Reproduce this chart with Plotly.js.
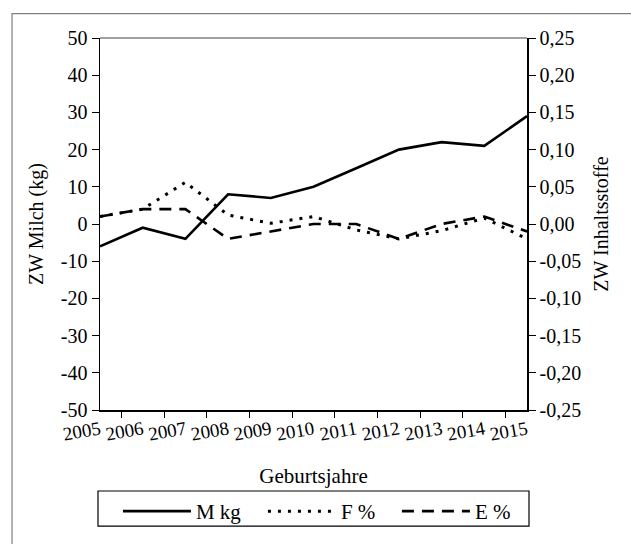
<!DOCTYPE html>
<html>
<head>
<meta charset="utf-8">
<script src="https://cdn.plot.ly/plotly-3.0.1.min.js"></script>
<style>html,body{margin:0;padding:0;background:#fff;}#chart{width:631px;height:544px;}</style>
</head>
<body>
<div id="chart"></div>
<script>
const years = ['2005','2006','2007','2008','2009','2010','2011','2012','2013','2014','2015'];
const milchKg = [-6, -1, -4, 8, 7, 10, 15, 20, 22, 21, 29];
const fettPct = [0.01, 0.02, 0.056, 0.012, 0.001, 0.01, -0.008, -0.02, -0.009, 0.008, -0.02];
const eiweissPct = [0.01, 0.02, 0.02, -0.02, -0.01, 0, 0, -0.02, 0, 0.01, -0.01];
const leftTicks = [-50, -40, -30, -20, -10, 0, 10, 20, 30, 40, 50];
const rightTicks = [-0.25, -0.20, -0.15, -0.10, -0.05, 0, 0.05, 0.10, 0.15, 0.20, 0.25];
const seriesNames = ['M kg', 'F %', 'E %'];

const fmtLeft = v => String(v);
const fmtRight = v => v.toFixed(2).replace('.', ',');
const FONT = 'Liberation Serif';

const traces = [
  {x: years, y: milchKg, name: seriesNames[0], type: 'scatter', mode: 'lines', yaxis: 'y',
   line: {color: '#000', width: 2.6}, legendwidth: 62},
  {x: years, y: fettPct, name: seriesNames[1], type: 'scatter', mode: 'lines', yaxis: 'y2',
   line: {color: '#000', width: 3, dash: '3px,7px'}, legendwidth: 51},
  {x: years, y: eiweissPct, name: seriesNames[2], type: 'scatter', mode: 'lines', yaxis: 'y2',
   line: {color: '#000', width: 2.6, dash: '12px,8px'}, legendwidth: 40}
];

const layout = {
  width: 631, height: 544,
  margin: {l: 100, r: 104, t: 38, b: 125},
  paper_bgcolor: '#fff', plot_bgcolor: '#fff',
  font: {family: FONT, size: 20, color: '#000'},
  showlegend: true,
  legend: {orientation: 'h', x: 0.042, xanchor: 'left', y: -0.2178, yanchor: 'top',
           bgcolor: 'rgba(0,0,0,0)', borderwidth: 0, itemwidth: 68, traceorder: 'normal',
           font: {family: FONT, size: 21, color: '#000'}},
  xaxis: {type: 'category', tickson: 'boundaries', ticks: 'outside', ticklen: 6, tickcolor: '#000',
          showline: true, linecolor: '#000', linewidth: 1.5, showgrid: false, zeroline: false,
          tickangle: -10, tickfont: {family: FONT, size: 19, color: '#000'},
          title: {text: 'Geburtsjahre', font: {family: FONT, size: 21, color: '#000'}, standoff: 24}, automargin: false},
  yaxis: {range: [-50, 50], tickvals: leftTicks, ticktext: leftTicks.map(fmtLeft), ticks: 'outside',
          ticklen: 7, tickcolor: '#000', showline: true, linecolor: '#000', linewidth: 1.5,
          showgrid: false, zeroline: false, tickfont: {family: FONT, size: 20, color: '#000'},
          title: {text: 'ZW Milch (kg)', font: {family: FONT, size: 20, color: '#000'}, standoff: 12}, automargin: false},
  yaxis2: {range: [-0.25, 0.25], overlaying: 'y', side: 'right', tickvals: rightTicks,
           ticktext: rightTicks.map(fmtRight), ticks: 'outside', ticklen: 7, tickcolor: '#000',
           showline: true, linecolor: '#000', linewidth: 1.5, showgrid: false, zeroline: false,
           tickfont: {family: FONT, size: 20, color: '#000'},
           title: {text: 'ZW Inhaltsstoffe', font: {family: FONT, size: 20, color: '#000'}, standoff: 14}, automargin: false},
  shapes: [
    {type: 'line', xref: 'paper', yref: 'paper', x0: 0, x1: 1, y0: 1, y1: 1,
     line: {color: '#808080', width: 1.5}},
    {type: 'rect', xref: 'paper', yref: 'paper', x0: -0.206, x1: 1.3, y0: -0.4, y1: 1.0656,
     line: {color: '#808080', width: 1.2}, layer: 'below'},
    {type: 'rect', xref: 'paper', yref: 'paper', x0: -0.0047, x1: 1.0047, y0: -0.3123, y1: -0.2178,
     line: {color: '#000', width: 1.2}, layer: 'below'}
  ]
};

Plotly.newPlot('chart', traces, layout, {displayModeBar: false, staticPlot: true});
</script>
</body>
</html>
